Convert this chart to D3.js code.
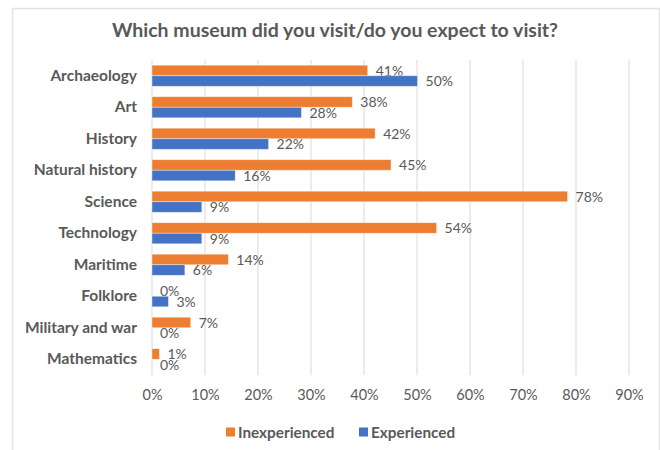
<!DOCTYPE html>
<html>
<head>
<meta charset="utf-8">
<script src="https://cdn.jsdelivr.net/npm/d3@7"></script>
<style>
  body { margin: 0; background: #fff; }
  svg { display: block; font-family: Lato, "Open Sans", sans-serif; }
</style>
</head>
<body>
<figure id="bar" style="margin:0"></figure>
<script>
const categories = ["Archaeology", "Art", "History", "Natural history", "Science",
  "Technology", "Maritime", "Folklore", "Military and war", "Mathematics"];
// percent of respondents
const inexperienced = [40.7, 37.8, 42.1, 45.1, 78.4, 53.7, 14.4, 0, 7.3, 1.4];
const experienced = [50.1, 28.2, 22.0, 15.7, 9.4, 9.4, 6.2, 3.1, 0, 0];
const xTicks = [0, 10, 20, 30, 40, 50, 60, 70, 80, 90];
const seriesNames = ["Inexperienced", "Experienced"];
const colors = ["#ED7D31", "#4472C4"];

const width = 660, height = 450;
const margin = { top: 60, right: 31, bottom: 75, left: 152 };
const innerW = width - margin.left - margin.right;
const innerH = height - margin.top - margin.bottom;

const svg = d3.select("figure#bar")
  .append("svg")
  .attr("width", width)
  .attr("height", height);

// chart frame
svg.append("rect")
  .attr("x", 12.5).attr("y", 8.5)
  .attr("width", 647).attr("height", 470)
  .attr("fill", "#fff")
  .attr("stroke", "#e4e4e4")
  .attr("stroke-width", 1.5);

svg.append("text")
  .attr("x", 335).attr("y", 37)
  .attr("text-anchor", "middle")
  .attr("font-size", 19.5)
  .attr("font-weight", "bold")
  .attr("fill", "#595959")
  .text("Which museum did you visit/do you expect to visit?");

const g = svg.append("g")
  .attr("transform", "translate(" + margin.left + "," + margin.top + ")");

const x = d3.scaleLinear().domain([0, 90]).range([0, innerW]);
const y = d3.scaleBand().domain(categories).range([0, innerH])
  .paddingInner(0.33).paddingOuter(0.165);
const ySub = d3.scaleBand().domain(seriesNames).range([0, y.bandwidth()]);

// gridlines
g.append("g")
  .selectAll("line")
  .data(xTicks)
  .enter()
  .append("line")
  .attr("x1", d => x(d)).attr("x2", d => x(d))
  .attr("y1", 0).attr("y2", innerH)
  .attr("stroke", "#d9d9d9")
  .attr("stroke-width", 1);

// x axis labels
const xAxis = g.append("g")
  .attr("transform", "translate(0," + innerH + ")")
  .call(d3.axisBottom(x).tickValues(xTicks).tickSize(0).tickPadding(15).tickFormat(d => d + "%"));
xAxis.select(".domain").remove();
xAxis.selectAll("text")
  .attr("font-size", 14.5)
  .attr("font-family", "Lato, sans-serif")
  .attr("fill", "#595959");

// y axis labels
const yAxis = g.append("g")
  .call(d3.axisLeft(y).tickSize(0).tickPadding(15));
yAxis.select(".domain").remove();
yAxis.selectAll("text")
  .attr("font-size", 15.5)
  .attr("font-weight", "bold")
  .attr("font-family", "Lato, sans-serif")
  .attr("fill", "#595959");

const series = [inexperienced, experienced];
const fmt = v => Math.round(v) + "%";

series.forEach((values, si) => {
  const rows = categories.map((c, i) => ({ cat: c, value: values[i] }));
  const grp = g.append("g");
  grp.selectAll("rect")
    .data(rows)
    .enter()
    .append("rect")
    .attr("x", 0)
    .attr("y", d => y(d.cat) + ySub(seriesNames[si]))
    .attr("width", d => x(d.value))
    .attr("height", ySub.bandwidth())
    .attr("fill", colors[si])
    .attr("stroke", "#fff")
    .attr("stroke-opacity", 0.5)
    .attr("stroke-width", 0.8);
  grp.selectAll("text")
    .data(rows)
    .enter()
    .append("text")
    .attr("x", d => x(d.value) + 8)
    .attr("y", d => y(d.cat) + ySub(seriesNames[si]) + ySub.bandwidth() / 2)
    .attr("dy", "0.38em")
    .attr("font-size", 14)
    .attr("fill", "#595959")
    .text(d => fmt(d.value));
});

// legend
const legend = svg.append("g").attr("transform", "translate(0,432)");
const legendX = [226, 359];
seriesNames.forEach((name, i) => {
  legend.append("rect")
    .attr("x", legendX[i]).attr("y", -4.5)
    .attr("width", 9).attr("height", 9)
    .attr("fill", colors[i]);
  legend.append("text")
    .attr("x", legendX[i] + 12).attr("y", 0)
    .attr("dy", "0.36em")
    .attr("font-size", 15.3)
    .attr("font-weight", "bold")
    .attr("fill", "#595959")
    .text(name);
});
</script>
</body>
</html>
